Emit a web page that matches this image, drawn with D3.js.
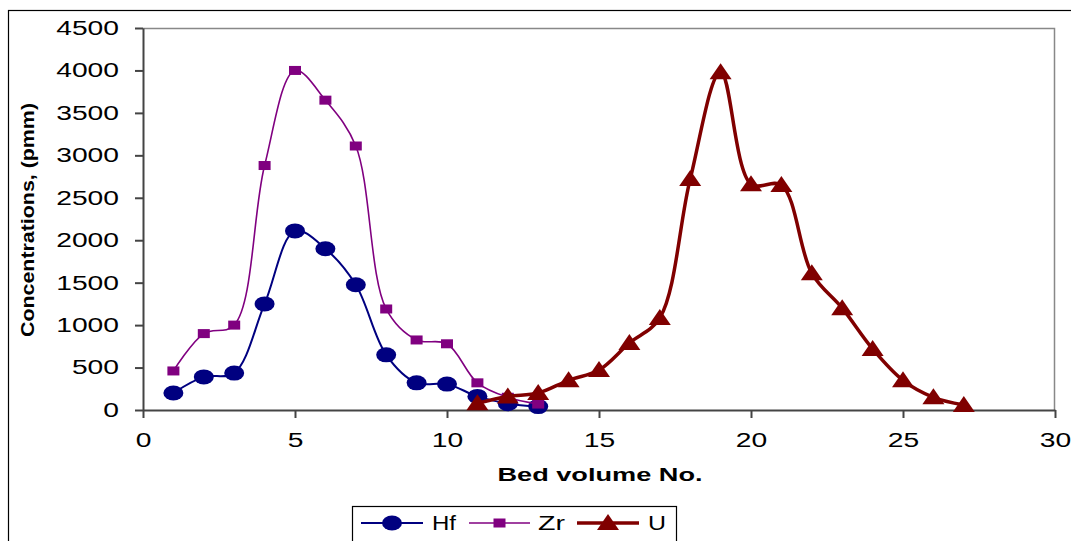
<!DOCTYPE html>
<html>
<head>
<meta charset="utf-8">
<script src="https://cdn.jsdelivr.net/npm/d3@7"></script>
<style>
  body { margin: 0; background: #fff; }
  text { font-family: "Liberation Sans", Arial, sans-serif; }
</style>
</head>
<body>
<div id="chart"></div>
<script>
var hfX = [1, 2, 3, 4, 5, 6, 7, 8, 9, 10, 11, 12, 13];
var hfY = [200, 390, 435, 1250, 2110, 1900, 1475, 650, 320, 305, 160, 75, 40];
var zrX = [1, 2, 3, 4, 5, 6, 7, 8, 9, 10, 11, 12, 13];
var zrY = [460, 900, 1000, 2880, 4000, 3650, 3110, 1190, 825, 780, 320, 150, 70];
var uX = [11, 12, 13, 14, 15, 16, 17, 18, 19, 20, 21, 22, 23, 24, 25, 26, 27];
var uY = [80, 160, 200, 350, 470, 790, 1085, 2720, 3980, 2660, 2650, 1610, 1200, 720, 350, 150, 60];
var xTicks = [0, 5, 10, 15, 20, 25, 30];
var yTicks = [0, 500, 1000, 1500, 2000, 2500, 3000, 3500, 4000, 4500];

(function() {
	var width = 1071;
	var height = 541;

	var svg = d3.select("#chart")
				.append("svg")
				.attr("width", width)
				.attr("height", height)

	// outer chart frame (runs off the right and bottom edges)
	svg.append("rect")
	   .attr("x", 8.5).attr("y", 10.5)
	   .attr("width", 1100).attr("height", 600)
	   .attr("fill", "none").attr("stroke", "#000").attr("stroke-width", 1.2)

	var left = 143, right = 1055, top = 28, bottom = 410;

	var xScale = d3.scaleLinear().domain([0, 30]).range([left, right]);
	var yScale = d3.scaleLinear().domain([0, 4500]).range([bottom, top]);

	// plot area border (gray top/right)
	svg.append("path")
	   .attr("d", "M" + left + "," + (top + 0.5) + "H" + (right - 0.5) + "V" + bottom)
	   .attr("fill", "none").attr("stroke", "#888").attr("stroke-width", 1.5)

	var fmt = d3.format("d");
	var yAxis = d3.axisLeft(yScale).tickValues(yTicks).tickFormat(fmt).tickSize(8).tickPadding(16).tickSizeOuter(0);
	var xAxis = d3.axisBottom(xScale).tickValues(xTicks).tickFormat(fmt).tickSize(8).tickPadding(15).tickSizeOuter(0);

	var gy = svg.append("g").attr("transform", "translate(" + left + ",0)").call(yAxis);
	var gx = svg.append("g").attr("transform", "translate(0," + bottom + ")").call(xAxis);

	// excel text here is drawn wide: stretch each label to ~15.7px per digit
	[gx, gy].forEach(function(g) {
		g.attr("font-family", null).attr("font-size", null);
		g.selectAll("path, line").attr("stroke", "#444").attr("stroke-width", 2);
		g.selectAll("text")
		 .attr("font-size", "20px").attr("fill", "#000")
		 .attr("textLength", function(d) { return fmt(d).length * 15.7; })
		 .attr("lengthAdjust", "spacingAndGlyphs");
	});

	svg.append("text")
	   .attr("x", 600).attr("y", 481)
	   .attr("text-anchor", "middle")
	   .attr("font-size", "19px").attr("font-weight", "bold")
	   .attr("textLength", 205).attr("lengthAdjust", "spacingAndGlyphs")
	   .text("Bed volume No.")

	svg.append("text")
	   .attr("transform", "translate(34,220) rotate(-90)")
	   .attr("text-anchor", "middle")
	   .attr("font-size", "19px").attr("font-weight", "bold")
	   .attr("textLength", 234).attr("lengthAdjust", "spacingAndGlyphs")
	   .text("Concentrations, (pmm)")

	var line = d3.line()
				 .x(function(d) { return xScale(d[0]); })
				 .y(function(d) { return yScale(d[1]); })
				 .curve(d3.curveCatmullRom.alpha(0.5));

	var series = [
		{ name: "Hf", xs: hfX, ys: hfY, color: "#000080", w: 2, marker: "circle", tl: 24 },
		{ name: "Zr", xs: zrX, ys: zrY, color: "#800080", w: 1.6, marker: "square", tl: 27 },
		{ name: "U", xs: uX, ys: uY, color: "#800000", w: 3.5, marker: "triangle", tl: 18 }
	];

	function drawMarker(g, type, cx, cy, color) {
		if (type === "circle") {
			g.append("ellipse").attr("cx", cx).attr("cy", cy).attr("rx", 10).attr("ry", 7.5)
			 .attr("fill", color)
		} else if (type === "square") {
			g.append("rect").attr("x", cx - 6).attr("y", cy - 4.5).attr("width", 12).attr("height", 9)
			 .attr("fill", color)
		} else {
			g.append("path")
			 .attr("d", "M" + cx + "," + (cy - 9) + "L" + (cx + 11) + "," + (cy + 7) + "L" + (cx - 11) + "," + (cy + 7) + "Z")
			 .attr("fill", color)
		}
	}

	series.forEach(function(s) {
		var pts = s.xs.map(function(x, i) { return [x, s.ys[i]]; });
		var g = svg.append("g");
		g.append("path")
		 .attr("d", line(pts))
		 .attr("fill", "none")
		 .attr("stroke", s.color)
		 .attr("stroke-width", s.w)
		pts.forEach(function(p) {
			drawMarker(g, s.marker, xScale(p[0]), yScale(p[1]), s.color);
		});
	});

	// legend
	var lg = svg.append("g");
	lg.append("rect")
	  .attr("x", 352.5).attr("y", 506.5).attr("width", 324).attr("height", 60)
	  .attr("fill", "#fff").attr("stroke", "#000").attr("stroke-width", 1.2)

	var legendPos = [
		{ x1: 361, x2: 423, tx: 432 },
		{ x1: 469, x2: 530, tx: 538 },
		{ x1: 577, x2: 639, tx: 648 }
	];
	series.forEach(function(s, i) {
		var p = legendPos[i], ly = 523;
		lg.append("line").attr("x1", p.x1).attr("x2", p.x2).attr("y1", ly).attr("y2", ly)
		  .attr("stroke", s.color).attr("stroke-width", s.w)
		drawMarker(lg, s.marker, (p.x1 + p.x2) / 2, ly, s.color);
		lg.append("text").attr("x", p.tx).attr("y", ly).attr("dy", "0.36em")
		  .attr("font-size", "20px")
		  .attr("textLength", s.tl).attr("lengthAdjust", "spacingAndGlyphs")
		  .text(s.name)
	});
}())
</script>
</body>
</html>
